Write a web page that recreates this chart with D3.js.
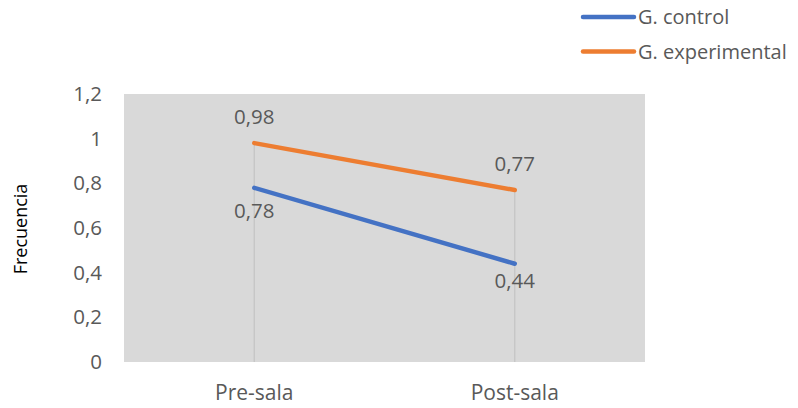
<!DOCTYPE html>
<html>
<head>
<meta charset="utf-8">
<script src="https://cdn.jsdelivr.net/npm/d3@7"></script>
<style>
  html, body { margin: 0; padding: 0; background: #fff; }
  svg text { font-family: "Open Sans", Lato, sans-serif; fill: #595959; }
</style>
</head>
<body>
<svg id="chart" width="798" height="408"></svg>
<script>
// Chart data
const categories = ["Pre-sala", "Post-sala"];
const seriesNames = ["G. control", "G. experimental"];
const controlValues = [0.78, 0.44];
const experimentalValues = [0.98, 0.77];
const yTicks = [0, 0.2, 0.4, 0.6, 0.8, 1, 1.2];
const yTickLabels = ["0", "0,2", "0,4", "0,6", "0,8", "1", "1,2"];
const colors = ["#4472c4", "#ed7d31"];

const series = [
  { name: seriesNames[0], values: controlValues, color: colors[0], labelPos: "below" },
  { name: seriesNames[1], values: experimentalValues, color: colors[1], labelPos: "above" }
];

const svg = d3.select("#chart");
const plot = { left: 124, top: 94, right: 645, bottom: 362 };
const font = "'Open Sans', Lato, sans-serif";

const x = d3.scaleBand().domain(categories).range([plot.left, plot.right]);
const y = d3.scaleLinear().domain([0, 1.2]).range([plot.bottom, plot.top]);
const cx = c => x(c) + x.bandwidth() / 2;
const fmt = v => d3.format(".2f")(v).replace(".", ",");

// Plot background
svg.append("rect")
  .attr("x", plot.left).attr("y", plot.top)
  .attr("width", plot.right - plot.left).attr("height", plot.bottom - plot.top)
  .attr("fill", "#d9d9d9");

// Drop lines from the highest point of each category
categories.forEach((c, i) => {
  const top = d3.max(series, s => s.values[i]);
  svg.append("line")
    .attr("x1", cx(c)).attr("x2", cx(c))
    .attr("y1", y(top)).attr("y2", y(0))
    .attr("stroke", "#c4c4c4").attr("stroke-width", 1.2);
});

// Y axis tick labels
const yAxis = d3.axisLeft(y).tickValues(yTicks)
  .tickFormat((d, i) => yTickLabels[i]).tickSize(0).tickPadding(0);
const yg = svg.append("g").attr("transform", `translate(${plot.left - 22},0)`).call(yAxis);
yg.select(".domain").remove();
yg.selectAll("text").attr("font-size", 20.5).attr("font-family", font).attr("fill", "#595959");

// X axis labels
const xAxis = d3.axisBottom(x).tickSize(0).tickPadding(0);
const xg = svg.append("g").attr("transform", `translate(0,${plot.bottom})`).call(xAxis);
xg.select(".domain").remove();
xg.selectAll("text").attr("font-size", 21).attr("font-family", font).attr("fill", "#595959")
  .attr("y", 38).attr("dy", 0);

// Axis title
svg.append("text")
  .attr("transform", `translate(27,${(plot.top + plot.bottom) / 2 + 1}) rotate(-90)`)
  .attr("text-anchor", "middle")
  .attr("font-size", 18)
  .style("fill", "#000")
  .text("Frecuencia");

// Lines
const line = d3.line().x((d, i) => cx(categories[i])).y(d => y(d));
series.forEach(s => {
  svg.append("path")
    .datum(s.values)
    .attr("d", line)
    .attr("fill", "none")
    .attr("stroke", s.color)
    .attr("stroke-width", 4.5)
    .attr("stroke-linecap", "round");
});

// Data labels (below-labels sit lower where the line falls away under them)
series.forEach(s => {
  s.values.forEach((v, i) => {
    const falling = i < s.values.length - 1 && s.values[i + 1] < v;
    const dy = s.labelPos === "above" ? -19 : (falling ? 30 : 24);
    svg.append("text")
      .attr("x", cx(categories[i]))
      .attr("y", y(v) + dy)
      .attr("text-anchor", "middle")
      .attr("font-size", 20.5)
      .text(fmt(v));
  });
});

// Legend
const legend = svg.append("g");
series.forEach((s, i) => {
  const ly = 17 + i * 34.5;
  legend.append("line")
    .attr("x1", 583).attr("x2", 634)
    .attr("y1", ly).attr("y2", ly)
    .attr("stroke", s.color).attr("stroke-width", 4.5)
    .attr("stroke-linecap", "round");
  legend.append("text")
    .attr("x", 638).attr("y", ly)
    .attr("dy", "0.36em")
    .attr("font-size", 20)
    .text(s.name);
});
</script>
</body>
</html>
